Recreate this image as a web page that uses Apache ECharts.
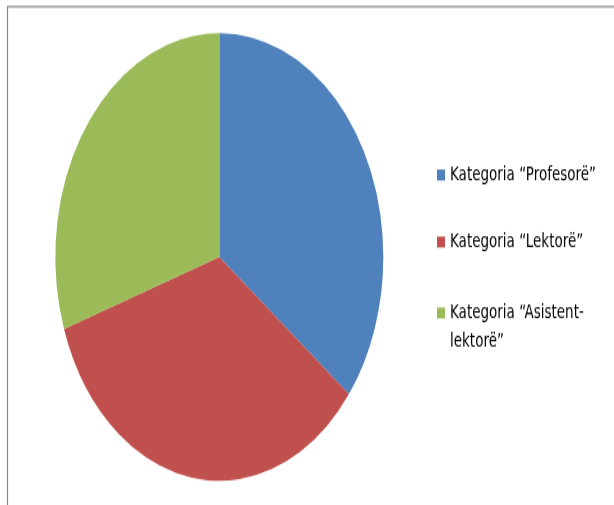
<!DOCTYPE html>
<html>
<head>
<meta charset="utf-8">
<script src="https://cdn.jsdelivr.net/npm/echarts@6/dist/echarts.min.js"></script>
<style>
html,body{margin:0;padding:0;overflow:hidden;background:#fff;width:614px;height:505px;}
#chart{width:614px;height:370px;transform:scaleY(1.36486);transform-origin:0 0;}
</style>
</head>
<body>
<div id="chart"></div>
<script>
const categories = ['Kategoria “Profesorë”', 'Kategoria “Lektorë”', 'Kategoria “Asistent-\nlektorë”'];
const values = [35.5, 34.3, 30.2];
const colors = ['#4F81BD', '#C0504D', '#9BBB59'];

const chart = echarts.init(document.getElementById('chart'), null, {renderer: 'canvas'});
const LH = 21;
const baseText = {fontFamily: 'DejaVu Sans', fontSize: 13.5, color: '#000', lineHeight: LH};
function mkLegend(i, top, fmt) {
  const lg = {
    orient: 'vertical', left: 437, top: top, padding: 0,
    itemWidth: 8, itemHeight: 8, icon: 'rect', itemGap: 0,
    selectedMode: false,
    textStyle: Object.assign({}, baseText),
    data: [categories[i]]
  };
  if (fmt) lg.formatter = fmt;
  return lg;
}
chart.setOption({
  animation: false,
  color: colors,
  legend: [
    mkLegend(0, 117.7),
    mkLegend(1, 166.8),
    mkLegend(2, 197.8, name => ' \n' + name)
  ],
  graphic: [{
    type: 'rect', silent: true,
    shape: {x: 7.5, y: 4.8, width: 800, height: 600},
    style: {fill: 'none', stroke: '#8a8a8a', lineWidth: 1.2}
  }],
  series: [{
    type: 'pie',
    radius: 164,
    center: [219.3, 188.3],
    startAngle: 90,
    clockwise: true,
    label: {show: false},
    labelLine: {show: false},
    emphasis: {disabled: true},
    itemStyle: {borderWidth: 0},
    data: categories.map((c, i) => ({name: c, value: values[i]}))
  }]
});
</script>
</body>
</html>
